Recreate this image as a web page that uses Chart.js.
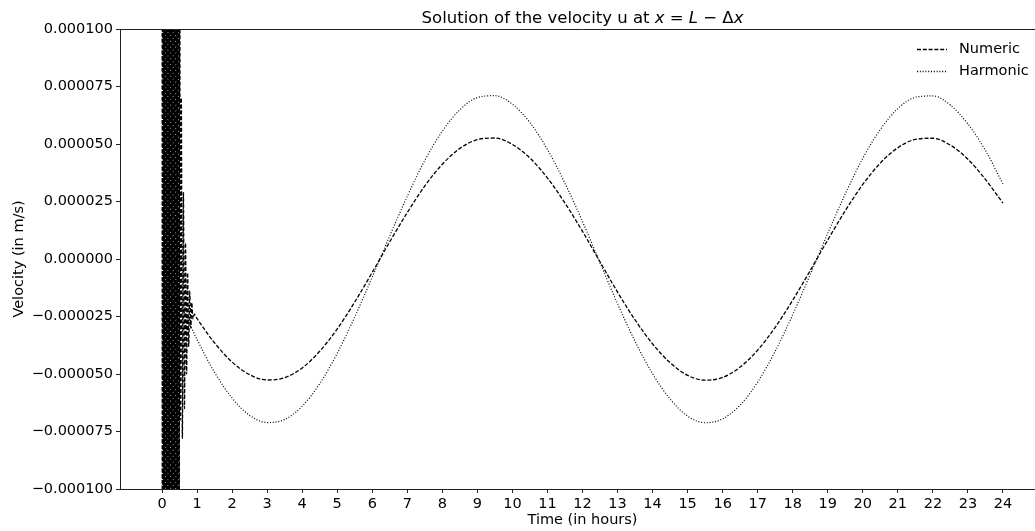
<!DOCTYPE html>
<html>
<head>
<meta charset="utf-8">
<script src="https://cdn.jsdelivr.net/npm/chart.js@4"></script>
<style>
  html, body { margin: 0; padding: 0; background: #fff; overflow: hidden; }
  #wrap { width: 1060px; height: 531px; }
</style>
</head>
<body>
<div id="wrap"><canvas id="velChart" width="1060" height="531"></canvas></div>
<script>
// Tick labels
const xTicks = [0,1,2,3,4,5,6,7,8,9,10,11,12,13,14,15,16,17,18,19,20,21,22,23,24];
const yTicks = [-0.0001, -0.000075, -0.00005, -0.000025, 0, 0.000025, 0.00005, 0.000075, 0.0001];

// Harmonic solution (time in hours, velocity in 1e-6 m/s)
const harmonicTime = [0,0.5,1,1.5,2,2.5,3,3.5,4,4.5,5,5.5,6,6.5,7,7.5,8,8.5,9,9.5,10,10.5,11,11.5,
  12,12.5,13,13.5,14,14.5,15,15.5,16,16.5,17,17.5,18,18.5,19,19.5,20,20.5,21,21.5,22,22.5,23,23.5,24];
const harmonicVel = [-0.6,-18.4,-35.0,-49.3,-60.5,-68.0,-71.1,-69.8,-64.0,-54.2,-41.0,-25.2,-7.8,10.1,27.3,42.9,
  55.6,64.9,70.2,71.0,67.3,59.3,47.6,32.9,16.3,-1.7,-19.4,-35.8,-49.9,-60.9,-68.3,-71.2,-69.5,-63.5,-53.5,
  -40.1,-24.2,-6.7,11.2,28.3,43.8,56.3,65.4,70.3,70.9,66.9,58.7,47.2,32.6];

// Numeric solution: start-up oscillation, then the smooth tide
const numericTime = [0,0.01,0.02,0.03,0.04,0.05,0.06,0.07,0.08,0.09,0.10,0.11,0.12,0.13,0.14,0.15,0.16,0.17,
  0.18,0.19,0.20,0.21,0.22,0.23,0.24,0.25,0.26,0.27,0.28,0.29,0.30,0.31,0.32,0.33,0.34,0.35,0.36,0.37,0.38,
  0.39,0.40,0.41,0.42,0.43,0.44,0.45,0.46,0.47,0.48,0.49,0.50,
  0.52,0.55,0.58,0.61,0.64,0.67,0.70,0.73,0.76,0.79,0.82,0.85,0.88,0.92,
  1,1.5,2,2.5,3,3.5,4,4.5,5,5.5,6,6.5,7,7.5,8,8.5,9,9.5,10,10.5,11,11.5,
  12,12.5,13,13.5,14,14.5,15,15.5,16,16.5,17,17.5,18,18.5,19,19.5,20,20.5,21,21.5,22,22.5,23,23.5,24];
const numericVel = [300,-300,300,-300,300,-300,300,-300,300,-300,300,-300,300,-300,300,-300,300,-300,
  300,-300,300,-300,300,-300,300,-300,300,-300,300,-300,300,-300,300,-300,300,-300,300,-300,300,
  -300,300,-300,300,-300,300,-300,300,-300,300,-300,300,
  -70,70,-78,29,-65,7,-50,-6,-38,-14,-30,-19,-26,-24,
  -25.9,-36.5,-44.8,-50.3,-52.6,-51.6,-47.4,-40.1,-30.4,-18.7,-5.8,7.5,20.2,31.8,41.2,48.1,51.9,52.6,
  49.8,43.9,35.2,24.3,12.0,-1.2,-14.4,-26.5,-36.9,-45.1,-50.6,-52.7,-51.5,-47.0,-39.6,-29.7,-17.9,-5.0,
  8.3,21.0,32.4,41.7,48.4,52.0,52.5,49.5,43.4,34.6,24.3];

const FONT = 'DejaVu Sans';
Chart.defaults.font.family = FONT;
Chart.defaults.color = '#000';

const toPoints = (ts, vs) => ts.map((t, i) => ({ x: t, y: vs[i] * 1e-6 }));

// top spine, title with math parts, legend
const decorations = {
  id: 'decorations',
  afterDraw(chart) {
    const { ctx, chartArea } = chart;
    ctx.save();
    ctx.strokeStyle = '#222';
    ctx.lineWidth = 1;
    ctx.beginPath();
    ctx.moveTo(chartArea.left, chartArea.top + 0.5);
    ctx.lineTo(chartArea.right, chartArea.top + 0.5);
    ctx.stroke();

    // title
    const parts = [
      ['Solution of the velocity u at ', ''], ['x', 'italic '], [' = ', ''],
      ['L', 'italic '], [' \u2212 \u0394', ''], ['x', 'italic ']
    ];
    const size = 16.5;
    let total = 0;
    parts.forEach(p => { ctx.font = p[1] + size + 'px "' + FONT + '"'; total += ctx.measureText(p[0]).width; });
    let x = (chartArea.left + chartArea.right) / 2 - total / 2;
    ctx.fillStyle = '#000';
    ctx.textBaseline = 'middle';
    ctx.textAlign = 'left';
    parts.forEach(p => {
      ctx.font = p[1] + size + 'px "' + FONT + '"';
      ctx.fillText(p[0], x, 19);
      x += ctx.measureText(p[0]).width;
    });

    // legend
    const items = [['Numeric', [4, 1.8], 49], ['Harmonic', [1, 1.8], 71]];
    items.forEach(it => {
      ctx.setLineDash(it[1]);
      ctx.lineWidth = 1.3;
      ctx.strokeStyle = '#000';
      ctx.beginPath();
      ctx.moveTo(917, it[2] + 0.5);
      ctx.lineTo(947, it[2] + 0.5);
      ctx.stroke();
      ctx.setLineDash([]);
      ctx.font = '14.5px "' + FONT + '"';
      ctx.fillText(it[0], 959, it[2]);
    });
    ctx.restore();
  }
};

new Chart(document.getElementById('velChart'), {
  type: 'line',
  data: {
    datasets: [{
      label: 'Numeric',
      data: toPoints(numericTime, numericVel),
      borderColor: '#000',
      borderWidth: 1.3,
      borderDash: [4, 1.8],
      pointRadius: 0,
      fill: false,
      cubicInterpolationMode: 'monotone'
    }, {
      label: 'Harmonic',
      data: toPoints(harmonicTime, harmonicVel),
      borderColor: '#000',
      borderWidth: 1.2,
      borderDash: [1, 1.8],
      pointRadius: 0,
      fill: false,
      cubicInterpolationMode: 'monotone'
    }]
  },
  options: {
    responsive: false,
    animation: false,
    layout: { padding: { top: 29, right: 15, left: 0, bottom: 0 } },
    plugins: {
      legend: { display: false },
      title: { display: false },
      tooltip: { enabled: false }
    },
    scales: {
      x: {
        type: 'linear',
        min: -1.2,
        max: 25.2,
        afterBuildTicks: s => { s.ticks = xTicks.map(v => ({ value: v })); },
        afterFit: s => { s.height = 42; },
        grid: { drawOnChartArea: false, drawTicks: true, tickLength: 4, color: '#222' },
        border: { color: '#222', width: 1 },
        ticks: { color: '#000', font: { size: 14.5 }, padding: 3, maxRotation: 0, autoSkip: false,
                 callback: v => String(v) },
        title: { display: true, text: 'Time (in hours)', color: '#000', font: { size: 14.5 },
                 padding: { top: 0, bottom: 2 } }
      },
      y: {
        min: -0.0001,
        max: 0.0001,
        afterBuildTicks: s => { s.ticks = yTicks.map(v => ({ value: v })); },
        afterFit: s => { s.width = 120; },
        grid: { drawOnChartArea: false, drawTicks: true, tickLength: 4, color: '#222' },
        border: { color: '#222', width: 1 },
        ticks: { color: '#000', font: { size: 14.5 }, padding: 3,
                 callback: v => (v < 0 ? '\u2212' : '') + Math.abs(v).toFixed(6) },
        title: { display: true, text: 'Velocity (in m/s)', color: '#000', font: { size: 14.5 },
                 padding: { top: 11, bottom: 0 } }
      }
    }
  },
  plugins: [decorations]
});
</script>
</body>
</html>
